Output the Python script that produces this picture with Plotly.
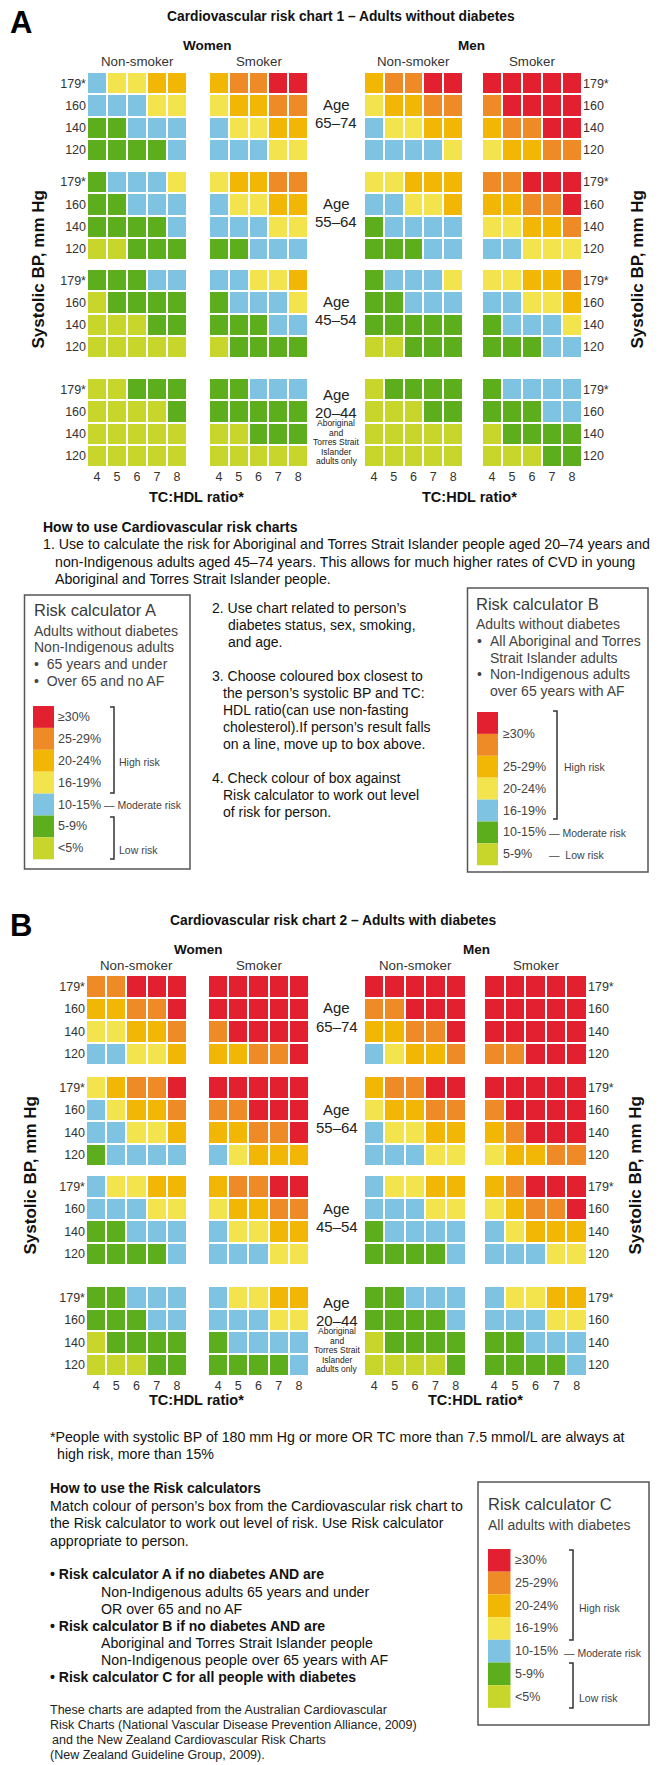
import plotly.graph_objects as go

W, H = 661, 1765
FONT = "Liberation Sans, Arial, Helvetica, sans-serif"

# ---------------- data ----------------
risk_colors = ["#C8D62B", "#5DAE1D", "#7EC4E2", "#F3E34D", "#F2B705", "#EF8B27", "#E2202F"]
risk_labels_A = ["≥30%", "25-29%", "20-24%", "16-19%", "10-15%", "5-9%", "<5%"]
risk_labels_B = ["≥30%", "25-29%", "20-24%", "16-19%", "10-15%", "5-9%"]
age_groups = ["65–74", "55–64", "45–54", "20–44"]
bp_labels = ["179*", "160", "140", "120"]
ratio_labels = ["4", "5", "6", "7", "8"]
# level index: 0 <5%, 1 5-9%, 2 10-15%, 3 16-19%, 4 20-24%, 5 25-29%, 6 >=30%

# Chart 1 - adults without diabetes (age blocks top to bottom, rows 179*,160,140,120)
c1_women_nonsmoker = [
    [[2, 3, 3, 4, 4], [2, 2, 2, 3, 3], [1, 1, 2, 2, 2], [1, 1, 1, 1, 2]],
    [[1, 2, 2, 2, 3], [1, 1, 2, 2, 2], [1, 1, 1, 1, 2], [0, 0, 1, 1, 1]],
    [[1, 1, 1, 2, 2], [0, 1, 1, 1, 1], [0, 0, 0, 1, 1], [0, 0, 0, 0, 0]],
    [[0, 0, 1, 1, 1], [0, 0, 0, 0, 1], [0, 0, 0, 0, 0], [0, 0, 0, 0, 0]],
]
c1_women_smoker = [
    [[4, 5, 5, 6, 6], [3, 4, 4, 5, 5], [2, 3, 3, 4, 4], [2, 2, 2, 3, 3]],
    [[3, 4, 4, 5, 5], [2, 3, 3, 4, 4], [2, 2, 2, 3, 3], [1, 1, 2, 2, 2]],
    [[2, 2, 3, 3, 4], [1, 2, 2, 2, 3], [1, 1, 1, 2, 2], [0, 1, 1, 1, 1]],
    [[1, 1, 2, 2, 2], [1, 1, 1, 1, 1], [0, 0, 1, 1, 1], [0, 0, 0, 0, 0]],
]
c1_men_nonsmoker = [
    [[4, 5, 5, 6, 6], [3, 4, 4, 5, 5], [2, 3, 3, 4, 4], [2, 2, 2, 2, 3]],
    [[3, 3, 4, 4, 4], [2, 2, 3, 3, 4], [1, 2, 2, 2, 2], [1, 1, 1, 2, 2]],
    [[1, 2, 2, 2, 3], [1, 1, 2, 2, 2], [1, 1, 1, 1, 1], [0, 0, 1, 1, 1]],
    [[0, 1, 1, 1, 1], [0, 0, 0, 1, 1], [0, 0, 0, 0, 0], [0, 0, 0, 0, 0]],
]
c1_men_smoker = [
    [[6, 6, 6, 6, 6], [5, 6, 6, 6, 6], [4, 5, 5, 6, 6], [3, 4, 4, 5, 5]],
    [[5, 5, 6, 6, 6], [4, 4, 5, 5, 6], [3, 3, 4, 4, 5], [2, 2, 3, 3, 3]],
    [[3, 3, 4, 4, 5], [2, 2, 3, 3, 4], [1, 2, 2, 2, 3], [1, 1, 1, 2, 2]],
    [[1, 2, 2, 2, 2], [1, 1, 1, 2, 2], [0, 1, 1, 1, 1], [0, 0, 0, 1, 1]],
]
# Chart 2 - adults with diabetes
c2_women_nonsmoker = [
    [[5, 5, 6, 6, 6], [4, 4, 5, 5, 6], [3, 3, 4, 4, 5], [2, 2, 3, 3, 4]],
    [[3, 4, 5, 5, 6], [2, 3, 4, 4, 5], [2, 2, 3, 3, 4], [1, 2, 2, 2, 2]],
    [[2, 3, 3, 4, 4], [2, 2, 2, 3, 3], [1, 1, 2, 2, 2], [1, 1, 1, 1, 2]],
    [[1, 1, 2, 2, 2], [1, 1, 1, 2, 2], [0, 1, 1, 1, 1], [0, 0, 0, 1, 1]],
]
c2_women_smoker = [
    [[6, 6, 6, 6, 6], [6, 6, 6, 6, 6], [5, 6, 6, 6, 6], [4, 4, 5, 5, 6]],
    [[6, 6, 6, 6, 6], [5, 5, 6, 6, 6], [4, 4, 5, 5, 6], [2, 3, 4, 4, 4]],
    [[4, 5, 5, 6, 6], [3, 4, 4, 5, 5], [2, 3, 3, 4, 4], [2, 2, 2, 3, 3]],
    [[2, 3, 3, 4, 4], [2, 2, 2, 3, 3], [1, 2, 2, 2, 2], [1, 1, 1, 1, 2]],
]
c2_men_nonsmoker = [
    [[6, 6, 6, 6, 6], [5, 5, 6, 6, 6], [4, 4, 5, 5, 6], [2, 3, 4, 4, 5]],
    [[4, 5, 5, 6, 6], [3, 4, 4, 5, 5], [2, 3, 3, 4, 4], [2, 2, 2, 3, 3]],
    [[2, 3, 3, 4, 4], [2, 2, 2, 3, 3], [1, 2, 2, 2, 2], [1, 1, 1, 1, 2]],
    [[1, 1, 2, 2, 2], [1, 1, 1, 1, 2], [0, 1, 1, 1, 1], [0, 0, 0, 0, 1]],
]
c2_men_smoker = [
    [[6, 6, 6, 6, 6], [6, 6, 6, 6, 6], [6, 6, 6, 6, 6], [5, 5, 6, 6, 6]],
    [[6, 6, 6, 6, 6], [5, 6, 6, 6, 6], [4, 5, 6, 6, 6], [3, 4, 4, 5, 5]],
    [[4, 5, 6, 6, 6], [3, 4, 5, 5, 6], [2, 3, 4, 4, 4], [2, 2, 2, 3, 3]],
    [[2, 3, 3, 4, 4], [2, 2, 2, 3, 3], [1, 1, 2, 2, 2], [1, 1, 1, 1, 2]],
]

# ---------------- layout helpers ----------------
def px(x):
    return x / W


def py(y):
    return 1 - y / H


annotations = []
shapes = []


def text(s, x, y, size=13, bold=False, anchor="left", color="#111", angle=0):
    if bold:
        s = "<b>" + s + "</b>"
    annotations.append(dict(text=s, x=px(x), y=py(y), xref="paper", yref="paper",
                            xanchor=anchor, yanchor="middle", showarrow=False, textangle=angle,
                            borderpad=0,
                            font=dict(size=size, color=color, family=FONT)))


def rect(x0, y0, x1, y1, fill=None, line=None, lw=1.5):
    shapes.append(dict(type="rect", xref="paper", yref="paper", x0=px(x0), x1=px(x1),
                       y0=py(y1), y1=py(y0), fillcolor=fill or "rgba(0,0,0,0)",
                       line=dict(color=line or "rgba(0,0,0,0)", width=lw if line else 0)))


def bracket(x, y0, y1, w=4, color="#333"):
    path = f"M {px(x - w)} {py(y0)} L {px(x)} {py(y0)} L {px(x)} {py(y1)} L {px(x - w)} {py(y1)}"
    shapes.append(dict(type="path", xref="paper", yref="paper", path=path,
                       line=dict(color=color, width=1.5)))


fig = go.Figure()
n_colors = len(risk_colors)
colorscale = []
for i, c in enumerate(risk_colors):
    colorscale.append([i / n_colors, c])
    colorscale.append([(i + 1) / n_colors, c])

charts = [
    dict(panels=[c1_women_nonsmoker, c1_women_smoker, c1_men_nonsmoker, c1_men_smoker],
         xs=[(87, 187), (209, 308), (364, 463), (482, 582)],
         ys=[(72, 161), (171, 260), (269, 358), (378, 467)]),
    dict(panels=[c2_women_nonsmoker, c2_women_smoker, c2_men_nonsmoker, c2_men_smoker],
         xs=[(86, 187), (208, 309), (364, 466), (484, 587)],
         ys=[(975, 1065), (1076, 1166), (1175, 1265), (1286, 1376)]),
]

layout_axes = {}
n = 0
for chart in charts:
    for pi, panel in enumerate(chart["panels"]):
        for ai, block in enumerate(panel):
            n += 1
            sx = "" if n == 1 else str(n)
            fig.add_trace(go.Heatmap(
                z=block, x=ratio_labels, y=bp_labels, xaxis="x" + sx, yaxis="y" + sx,
                colorscale=colorscale, zmin=-0.5, zmax=n_colors - 0.5, showscale=False,
                xgap=2, ygap=2, hoverinfo="skip"))
            x0, x1 = chart["xs"][pi]
            y0, y1 = chart["ys"][ai]
            layout_axes["xaxis" + sx] = dict(
                domain=[px(x0), px(x1)], anchor="y" + sx, type="category",
                showgrid=False, zeroline=False, showline=False, ticks="",
                showticklabels=(ai == 3), fixedrange=True,
                tickfont=dict(size=12.5, color="#333", family=FONT))
            layout_axes["yaxis" + sx] = dict(
                domain=[py(y1), py(y0)], anchor="x" + sx, type="category",
                autorange="reversed", showgrid=False, zeroline=False, showline=False,
                ticks="", showticklabels=(pi in (0, 3)), side="right" if pi == 3 else "left",
                fixedrange=True, tickfont=dict(size=12.5, color="#333", family=FONT))

# ---------------- chart texts ----------------
titles = ["Cardiovascular risk chart 1 – Adults without diabetes",
          "Cardiovascular risk chart 2 – Adults with diabetes"]
letters = ["A", "B"]
letter_y = [22, 925]
title_xy = [(341, 17), (333, 921)]
sex_y = [45, 949]
sex_x = [(207, 471), (198, 476)]
sub_y = [62, 966]
sys_x = [(38, 637), (30, 635)]
axis_title_xy = [((196, 470), 497), ((196, 475), 1400)]

for ci, chart in enumerate(charts):
    text(letters[ci], 9, letter_y[ci], size=31, bold=True, color="#000")
    text(titles[ci], title_xy[ci][0], title_xy[ci][1], size=13.8, bold=True, anchor="center")
    text("Women", sex_x[ci][0], sex_y[ci], size=13.5, bold=True, anchor="center")
    text("Men", sex_x[ci][1], sex_y[ci], size=13.5, bold=True, anchor="center")
    for pi, lab in enumerate(["Non-smoker", "Smoker", "Non-smoker", "Smoker"]):
        x0, x1 = chart["xs"][pi]
        text(lab, (x0 + x1) / 2, sub_y[ci], size=13.3, anchor="center", color="#333")
    ys = chart["ys"]
    gx = (chart["xs"][1][1] + chart["xs"][2][0]) / 2
    for ai, age in enumerate(age_groups):
        y0, y1 = ys[ai]
        if ai < 3:
            c = (y0 + y1) / 2
            text("Age", gx, c - 12, size=15, anchor="center", color="#222")
            text(age, gx, c + 6, size=15, anchor="center", color="#222")
        else:
            text("Age", gx, y0 + 16, size=15, anchor="center", color="#222")
            text(age, gx, y0 + 34, size=15, anchor="center", color="#222")
            for li, line in enumerate(["Aboriginal", "and", "Torres Strait", "Islander", "adults only"]):
                text(line, gx, y0 + 45 + li * 9.6, size=8.5, anchor="center", color="#222")
    cy = (ys[0][0] + ys[3][1]) / 2
    text("Systolic BP, mm Hg", sys_x[ci][0], cy, size=17, bold=True, anchor="center", angle=-90)
    text("Systolic BP, mm Hg", sys_x[ci][1], cy, size=17, bold=True, anchor="center", angle=-90)
    for xx in axis_title_xy[ci][0]:
        text("TC:HDL ratio*", xx, axis_title_xy[ci][1], size=14.5, bold=True, anchor="center")

BODY = 14.2

# ---------------- how-to text (chart 1) ----------------
text("How to use Cardiovascular risk charts", 42, 527, size=14, bold=True)
text("1. Use to calculate the risk for Aboriginal and Torres Strait Islander people aged 20–74 years and", 42, 544, size=BODY)
text("non-Indigenous adults aged 45–74 years. This allows for much higher rates of CVD in young", 54, 562, size=BODY)
text("Aboriginal and Torres Strait Islander people.", 54, 579, size=BODY)

steps = [("2. Use chart related to person’s", 211, 608), ("diabetes status, sex, smoking,", 227, 625),
         ("and age.", 227, 642), ("3. Choose coloured box closest to", 211, 676),
         ("the person’s systolic BP and TC:", 222, 693), ("HDL ratio(can use non-fasting", 222, 710),
         ("cholesterol).If person’s result falls", 222, 727), ("on a line, move up to box above.", 222, 744),
         ("4. Check colour of box against", 211, 778), ("Risk calculator to work out level", 222, 795),
         ("of risk for person.", 222, 812)]
for s, x, y in steps:
    text(s, x, y, size=14)

BOXC = "#3a3a3a"
palette_top_down = risk_colors[::-1]

# Risk calculator A
rect(24.5, 595, 190, 869, line="#555")
text("Risk calculator A", 33, 610, size=16.5, color=BOXC)
for s, y in [("Adults without diabetes", 631), ("Non-Indigenous adults", 647),
             ("•  65 years and under", 664), ("•  Over 65 and no AF", 681)]:
    text(s, 33, y, size=14, color="#444")
sh = 21.9
for i, c in enumerate(palette_top_down):
    y0 = 706 + i * sh
    rect(33, y0, 54, y0 + sh, fill=c)
    text(risk_labels_A[i], 57, y0 + sh / 2, size=12.5, color="#444")
bracket(114, 707, 793)
text("High risk", 118, 762, size=10.5, color="#444")
text("— Moderate risk", 103, 805, size=10.5, color="#444")
bracket(114, 817, 859)
text("Low risk", 118, 850, size=10.5, color="#444")

# Risk calculator B
rect(467.5, 588, 648, 872, line="#555")
text("Risk calculator B", 475, 604, size=16.5, color=BOXC)
text("Adults without diabetes", 475, 624, size=14, color="#444")
for s, y, bullet in [("All Aboriginal and Torres", 641, True), ("Strait Islander adults", 658, False),
                     ("Non-Indigenous adults", 674, True), ("over 65 years with AF", 691, False)]:
    if bullet:
        text("•", 476, y, size=14, color="#444")
    text(s, 489, y, size=14, color="#444")
for i, c in enumerate(palette_top_down):
    y0 = 712 + i * sh
    rect(477, y0, 498, y0 + sh, fill=c)
# calculator B: red+orange = >=30%, then one category per colour
label_rows_B = [(0, 2), (2, 3), (3, 4), (4, 5), (5, 6), (6, 7)]
for lab, (r0, r1) in zip(risk_labels_B, label_rows_B):
    text(lab, 502, 712 + (r0 + r1) / 2 * sh, size=12.5, color="#444")
bracket(557, 711, 819)
text("High risk", 563, 767, size=10.5, color="#444")
text("— Moderate risk", 548, 833, size=10.5, color="#444")
text("—  Low risk", 548, 855, size=10.5, color="#444")

# ---------------- bottom text ----------------
text("*People with systolic BP of 180 mm Hg or more OR TC more than 7.5 mmol/L are always at", 48.5, 1437, size=BODY)
text("high risk, more than 15%", 56, 1454, size=BODY)
text("How to use the Risk calculators", 48.5, 1488, size=14, bold=True)
for s, y in [("Match colour of person’s box from the Cardiovascular risk chart to", 1506),
             ("the Risk calculator to work out level of risk. Use Risk calculator", 1523),
             ("appropriate to person.", 1541)]:
    text(s, 48.5, y, size=BODY)
text("• Risk calculator A if no diabetes AND are", 48.5, 1574, size=14, bold=True)
text("Non-Indigenous adults 65 years and under", 100, 1592, size=BODY)
text("OR over 65 and no AF", 100, 1609, size=BODY)
text("• Risk calculator B if no diabetes AND are", 48.5, 1626, size=14, bold=True)
text("Aboriginal and Torres Strait Islander people", 100, 1643, size=BODY)
text("Non-Indigenous people over 65 years with AF", 100, 1660, size=BODY)
text("• Risk calculator C for all people with diabetes", 48.5, 1677, size=14, bold=True)
for s, x, y in [("These charts are adapted from the Australian Cardiovascular", 48.5, 1710),
                ("Risk Charts (National Vascular Disease Prevention Alliance, 2009)", 48.5, 1725),
                ("and the New Zealand Cardiovascular Risk Charts", 51, 1740),
                ("(New Zealand Guideline Group, 2009).", 48.5, 1755)]:
    text(s, x, y, size=12.5, color="#222")

# Risk calculator C
rect(478, 1482, 649, 1725, line="#555")
text("Risk calculator C", 486.5, 1504, size=16.5, color=BOXC)
text("All adults with diabetes", 486.5, 1525, size=14, color="#444")
shc = 22.7
for i, c in enumerate(palette_top_down):
    y0 = 1549 + i * shc
    rect(488, y0, 510.5, y0 + shc, fill=c)
    text(risk_labels_A[i], 514, y0 + shc / 2, size=12.5, color="#444")
bracket(573, 1550, 1640)
text("High risk", 578, 1608, size=10.5, color="#444")
text("— Moderate risk", 563, 1653, size=10.5, color="#444")
bracket(573, 1663, 1708)
text("Low risk", 578, 1698, size=10.5, color="#444")

fig.update_layout(
    width=W, height=H, margin=dict(l=0, r=0, t=0, b=0),
    paper_bgcolor="white", plot_bgcolor="white", showlegend=False,
    annotations=annotations, shapes=shapes, font=dict(family=FONT),
    **layout_axes)

fig.write_html("out.html", config={"displayModeBar": False},
               post_script="document.body.style.margin='0';document.body.style.overflow='hidden';")
